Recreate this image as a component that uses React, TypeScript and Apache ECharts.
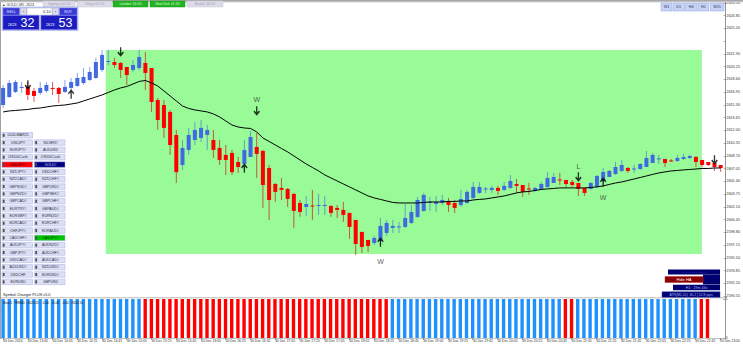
import React, { useEffect, useRef } from "react";
import * as echarts from "echarts";

const BASE = 2590.55;
const STEP = 1.65;
const TOP = 2628.5;
const BID = 2623.32;

const times = "13:25 13:30 13:35 13:40 13:45 13:50 13:55 14:00 14:05 14:10 14:15 14:20 14:25 14:30 14:35 14:40 14:45 14:50 14:55 15:00 15:05 15:10 15:15 15:20 15:25 15:30 15:35 15:40 15:45 15:50 15:55 16:00 16:05 16:10 16:15 16:20 16:25 16:30 16:35 16:40 16:45 16:50 16:55 17:00 17:05 17:10 17:15 17:20 17:25 17:30 17:35 17:40 17:45 17:50 17:55 18:00 18:05 18:10 18:15 18:20 18:25 18:30 18:35 18:40 18:45 18:50 18:55 19:00 19:05 19:10 19:15 19:20 19:25 19:30 19:35 19:40 19:45 19:50 19:55 20:00 20:05 20:10 20:15 20:20 20:25 20:30 20:35 20:40 20:45 20:50 20:55 21:00 21:05 21:10 21:15 21:20 21:25 21:30 21:35 21:40 21:45 21:50 21:55 22:00 22:05 22:10 22:15 22:20 22:25 22:30 22:35 22:40 22:45 22:50 22:55 23:00 23:05".split(" ");

// [open, close, low, high]
const candles = [
  [2615.29, 2617.5, 2614.91, 2617.88], [2616.33, 2618.14, 2616.2, 2618.53], [2616.98, 2618.27, 2616.85, 2618.53],
  [2617.5, 2617.63, 2616.85, 2618.27], [2617.63, 2616.59, 2615.94, 2618.27], [2617.11, 2616.46, 2615.68, 2617.5],
  [2616.85, 2617.5, 2616.59, 2618.27], [2617.11, 2617.88, 2616.85, 2618.27], [2617.5, 2617.37, 2616.59, 2618.27],
  [2617.5, 2616.72, 2615.55, 2617.63], [2616.98, 2617.63, 2616.85, 2618.53], [2617.5, 2618.27, 2616.98, 2618.79],
  [2617.76, 2618.79, 2617.63, 2619.44], [2618.14, 2618.92, 2617.88, 2620.08], [2618.53, 2619.57, 2618.4, 2620.21],
  [2618.79, 2620.86, 2618.66, 2621.38], [2619.83, 2621.77, 2619.57, 2622.42], [2620.86, 2620.99, 2620.47, 2622.42],
  [2620.86, 2620.47, 2620.08, 2621.38], [2620.73, 2619.83, 2618.79, 2620.86], [2620.21, 2619.18, 2617.88, 2620.21],
  [2619.83, 2620.47, 2619.57, 2621.12], [2620.08, 2621.51, 2619.83, 2622.42], [2620.73, 2619.44, 2617.24, 2622.16],
  [2620.08, 2615.68, 2614.39, 2620.08], [2615.94, 2613.35, 2612.06, 2616.2], [2615.29, 2612.32, 2611.02, 2615.94],
  [2614.39, 2610.11, 2608.82, 2614.65], [2611.41, 2606.59, 2605.19, 2612.06], [2607.52, 2609.73, 2606.88, 2610.76],
  [2609.47, 2611.41, 2608.82, 2612.32], [2610.76, 2612.06, 2610.11, 2613.09], [2611.02, 2612.32, 2610.5, 2613.35],
  [2611.41, 2612.06, 2609.47, 2612.71], [2610.76, 2609.47, 2608.43, 2612.06], [2609.73, 2608.17, 2607.52, 2610.76],
  [2608.82, 2608.17, 2606.23, 2610.11], [2609.08, 2606.59, 2606.23, 2609.47], [2607.91, 2607.26, 2606.49, 2608.56],
  [2607.65, 2609.47, 2606.88, 2610.76], [2608.56, 2611.15, 2608.56, 2611.93], [2609.86, 2608.95, 2605.84, 2611.67],
  [2609.34, 2604.93, 2601.96, 2609.47], [2607.13, 2602.99, 2600.4, 2607.52], [2605.06, 2604.03, 2602.73, 2605.19],
  [2604.55, 2604.29, 2602.99, 2605.84], [2604.42, 2603.12, 2602.08, 2604.55], [2603.77, 2601.57, 2599.37, 2603.9],
  [2602.6, 2601.44, 2600.81, 2602.99], [2602.08, 2602.47, 2600.92, 2603.51], [2602.27, 2602.14, 2600.4, 2604.29],
  [2602.21, 2602.34, 2601.05, 2603.77], [2602.21, 2602.34, 2601.05, 2603.51], [2602.21, 2601.31, 2600.81, 2602.34],
  [2601.96, 2601.7, 2600.66, 2602.34], [2601.7, 2601.05, 2600.14, 2602.73], [2601.31, 2599.5, 2597.94, 2601.31],
  [2600.4, 2597.29, 2595.87, 2600.4], [2598.85, 2596.9, 2596.12, 2598.85], [2597.81, 2597.03, 2596.25, 2597.81],
  [2597.42, 2598.07, 2597.16, 2598.33], [2597.68, 2599.63, 2597.16, 2600.66], [2598.72, 2600.01, 2598.33, 2600.4],
  [2599.37, 2599.63, 2598.72, 2600.4], [2599.43, 2599.56, 2598.72, 2600.14], [2599.5, 2600.66, 2599.37, 2602.47],
  [2600.01, 2601.44, 2599.88, 2602.34], [2600.79, 2602.99, 2600.66, 2603.38], [2601.57, 2603.64, 2601.44, 2603.9],
  [2602.6, 2602.73, 2601.57, 2603.38], [2602.47, 2602.73, 2601.44, 2603.51], [2602.6, 2602.99, 2602.34, 2603.64],
  [2602.86, 2602.34, 2601.44, 2603.25], [2602.6, 2601.96, 2601.31, 2602.99], [2602.34, 2603.12, 2602.08, 2604.29],
  [2602.6, 2604.03, 2602.47, 2604.29], [2603.25, 2604.68, 2603.12, 2605.32], [2603.9, 2604.68, 2603.77, 2605.32],
  [2604.35, 2604.48, 2603.9, 2604.68], [2604.29, 2604.55, 2603.9, 2604.81], [2604.55, 2604.16, 2603.64, 2604.81],
  [2604.29, 2604.81, 2604.16, 2605.32], [2604.55, 2605.45, 2604.42, 2606.23], [2605.06, 2604.81, 2603.9, 2605.71],
  [2604.93, 2604.03, 2603.38, 2604.93], [2604.48, 2604.35, 2603.64, 2605.19], [2604.16, 2604.55, 2604.03, 2604.68],
  [2604.42, 2605.06, 2604.29, 2605.32], [2604.68, 2605.84, 2604.55, 2606.62], [2605.19, 2605.97, 2605.19, 2606.49],
  [2605.64, 2605.51, 2604.93, 2606.49], [2605.58, 2605.06, 2604.68, 2605.58], [2605.32, 2604.93, 2604.68, 2605.58],
  [2605.19, 2604.42, 2603.51, 2605.19], [2604.55, 2603.9, 2603.51, 2604.55], [2604.42, 2605.19, 2604.29, 2605.32],
  [2604.68, 2606.1, 2604.55, 2606.23], [2605.45, 2606.62, 2605.19, 2607.13], [2605.97, 2606.75, 2605.97, 2606.88],
  [2606.36, 2607.26, 2606.23, 2607.91], [2606.75, 2607.52, 2606.62, 2608.17], [2607.13, 2606.75, 2606.49, 2607.26],
  [2606.94, 2607.07, 2606.49, 2607.52], [2607.0, 2607.65, 2606.88, 2607.78], [2607.26, 2608.43, 2607.26, 2609.34],
  [2607.78, 2608.82, 2607.78, 2609.08], [2608.24, 2608.37, 2607.65, 2608.82], [2608.3, 2607.78, 2607.26, 2608.3],
  [2608.11, 2607.98, 2607.91, 2608.3], [2608.04, 2608.43, 2607.91, 2608.82], [2608.3, 2608.56, 2608.17, 2608.95],
  [2608.43, 2608.69, 2608.3, 2608.82], [2608.56, 2607.91, 2607.26, 2608.69], [2608.17, 2607.52, 2607.26, 2608.17],
  [2607.91, 2607.52, 2607.39, 2607.91], [2607.78, 2607.26, 2606.75, 2607.78], [2607.52, 2607.13, 2606.62, 2607.52],
];

const maValues = [
  2614.39, 2614.52, 2614.58, 2614.65, 2614.71, 2614.84, 2614.9, 2615.03, 2615.16, 2615.23,
  2615.29, 2615.42, 2615.55, 2615.81, 2616.07, 2616.33, 2616.59, 2616.91, 2617.24, 2617.5,
  2617.69, 2618.01, 2618.34, 2618.47, 2618.14, 2617.75, 2617.11, 2616.46, 2615.81, 2615.16,
  2614.84, 2614.65, 2614.52, 2614.39, 2614.13, 2613.74, 2613.22, 2612.7, 2612.44, 2612.31,
  2612.25, 2611.8, 2611.02, 2610.57, 2610.11, 2609.66, 2609.21, 2608.69, 2608.17, 2607.65,
  2607.2, 2606.75, 2606.23, 2605.84, 2605.45, 2605.06, 2604.68, 2604.29, 2603.9, 2603.51,
  2603.25, 2603.06, 2602.86, 2602.67, 2602.6, 2602.6, 2602.6, 2602.6, 2602.67, 2602.73,
  2602.73, 2602.73, 2602.8, 2602.8, 2602.86, 2602.86, 2602.99, 2603.06, 2603.12, 2603.25,
  2603.38, 2603.51, 2603.7, 2603.9, 2604.03, 2604.09, 2604.22, 2604.35, 2604.42, 2604.48,
  2604.55, 2604.55, 2604.55, 2604.55, 2604.55, 2604.61, 2604.68, 2604.81, 2605.0, 2605.19,
  2605.32, 2605.51, 2605.71, 2605.9, 2606.1, 2606.3, 2606.49, 2606.62, 2606.75, 2606.81,
  2606.88, 2606.94, 2607.0, 2607.07, 2607.07, 2607.13, 2607.13,
];

// 1 = up (blue), 0 = down (red)
const trendState = [
  1, 1, 1, 1, 1, 1, 1, 1, 1, 1, 1, 1, 1, 1, 1, 1, 1, 1, 1, 1, 1, 1, 1,
  0, 0, 0, 0, 0, 0, 0, 0, 0, 0, 0, 0, 0, 0, 0, 0, 0, 0, 0, 0, 0, 0, 0, 0, 0, 0, 0, 0, 0, 0, 0, 0, 0, 0, 0, 0, 0, 0, 0, 0,
  1, 1, 1, 1, 1, 1, 1, 1, 1, 1, 1, 1, 1, 1, 1, 1, 1, 1, 1, 1, 1, 1, 1, 1, 1, 1, 1, 1,
  0, 0,
  1, 1, 1, 1, 1, 1, 1, 1, 1, 1, 1, 1, 1, 1, 1, 1, 1, 1, 1, 1,
  0, 0,
];

const downArrows = [[4, 2617.88], [19, 2622.16], [41, 2614.52], [93, 2605.97], [115, 2608.17]];
const upArrows = [[11, 2616.72], [39, 2607.13], [61, 2597.55], [97, 2605.32]];
const signalLabels: [number, number, string][] = [[41, 2615.94, "W"], [61, 2594.96, "W"], [93, 2607.26, "L"], [97, 2603.25, "W"]];
// [fromIndex, toIndex, highPrice, lowPrice]
const zone = [16.6, 112.95, 2622.41, 2595.99];

const symLeft = ["0100-MAR25", "USDJPY", "EURJPY#", "US100Cash", "USDJPY#", "NZDJPY#", "NZDCAD#", "GBPSGD#", "GBPNZD#", "GBPCAD#", "EURTRY#", "EURGBP#", "EURCAD#", "CHFJPY#", "CADCHF#", "AUDJPY#", "GBPJPY#", "USDCAD#", "AUDUSD#", "USDCHF", "EURUSD"];
const symRight = ["", "SILVER#", "AUDUSD", "US500Cash", "GOLD#", "USDCHF#", "NZDCHF#", "GBPUSD#", "GBPSEK#", "GBPCHF#", "GBPAUD#", "EURNZD#", "EURCHF#", "EURAUD#", "CADJPY#", "AUDNZD#", "AUDCHF#", "AUDCAD#", "NZDUSD#", "EURUSD#", "GBPUSD"];
const sessions = [
  ["Sydney 02:20", 43, 32, 0], ["Tokyo 01:20", 77, 35, 0], ["London 16:20", 113, 35, 1],
  ["NewYork 11:20", 150, 35, 1], ["Broker 18:20", 187, 36, 0],
];
const timeframes = [["W1", 661, 11], ["D1", 673, 11.5], ["H4", 685.5, 11.5], ["H1", 698, 11], ["M15", 710.5, 13.5]];

const FONT = "Liberation Sans, Arial, sans-serif";
const sh = (v: number) => +(v - BASE).toFixed(2);

function txt(x: number, y: number, text: string, fs: number, fill: string, align = "center", weight = "normal") {
  return { type: "text", x, y, z: 101, style: { text, fill, fontSize: fs, fontFamily: FONT, fontWeight: weight, align, verticalAlign: "middle" } };
}
function box(x: number, y: number, w: number, h: number, fill: string, stroke?: string) {
  return { type: "rect", z: 100, shape: { x, y, width: w, height: h }, style: { fill, stroke: stroke || null, lineWidth: 0.5 } };
}

function buildGraphics() {
  const els: any[] = [];
  els.push({ type: "rect", z: 99, shape: { x: 0, y: 0, width: 743, height: 2.5 }, style: { fill: new echarts.graphic.LinearGradient(0, 0, 0, 1, [{ offset: 0, color: "#9c9c9c" }, { offset: 1, color: "#d6d6d6" }]) } });
  els.push({ type: "line", z: 99, shape: { x1: 0.5, y1: 2, x2: 0.5, y2: 339 }, style: { stroke: "#a0a0a0", lineWidth: 1 } });
  els.push({ type: "line", z: 99, shape: { x1: 725.5, y1: 2, x2: 725.5, y2: 339 }, style: { stroke: "#666", lineWidth: 0.7 } });
  els.push({ type: "line", z: 99, shape: { x1: 0, y1: 297.8, x2: 725.5, y2: 297.8 }, style: { stroke: "#999", lineWidth: 0.7 } });
  els.push(txt(2, 4.6, "▲ GOLD#,M5  2623.", 3.5, "#333", "left"));
  sessions.forEach(([label, x, w, on]: any) => {
    els.push(box(x, 1, w, 6, on ? "#22b422" : "#dcdce8", on ? "#1a9a1a" : "#c8c8d8"));
    els.push(txt(x + w / 2, 4, label, 3.6, on ? "#d8ffd8" : "#a0a0b4"));
  });
  // trade panel
  els.push(box(2, 7, 76, 23.5, "#c8d0f2", "#8c9ce6"));
  els.push(box(3, 8, 16.5, 7, "#3a3ad6", "#8888ee"));
  els.push(txt(11.25, 11.6, "SELL", 3.8, "#e4e4ff"));
  els.push(box(20.5, 8, 6, 7, "#dcdcec", "#aaaacc"));
  els.push(txt(23.5, 11.5, "▪", 3.5, "#333"));
  els.push(box(27, 8, 25, 7, "#ffffff", "#b0b0c0"));
  els.push(txt(50.5, 11.6, "0.10", 3.8, "#222", "right"));
  els.push(box(52.5, 8, 6, 7, "#dcdcec", "#aaaacc"));
  els.push(txt(55.5, 11.5, "▪", 3.5, "#333"));
  els.push(box(59.5, 8, 17.5, 7, "#3a3ad6", "#8888ee"));
  els.push(txt(68.25, 11.6, "BUY", 3.8, "#e4e4ff"));
  els.push(box(3, 15.5, 36, 14, "#1c1cc0", "#6a6ae8"));
  els.push(txt(8, 24.5, "2623", 3.8, "#ffffff", "left"));
  els.push(txt(20.5, 23, "32", 12.5, "#ffffff", "left"));
  els.push(box(41, 15.5, 36, 14, "#1c1cc0", "#6a6ae8"));
  els.push(txt(46, 24.5, "2623", 3.8, "#ffffff", "left"));
  els.push(txt(58.5, 23, "53", 12.5, "#ffffff", "left"));
  // timeframe buttons
  timeframes.forEach(([label, x, w]: any) => {
    els.push(box(x, 3, w, 8, "#c8d2f4", "#8fa4e8"));
    els.push(txt(x + w / 2, 7.2, label, 3.8, "#333366"));
  });
  // symbol changer buttons
  for (let k = 0; k < symLeft.length; k++) {
    const y = 132.5 + 7.33 * k;
    const cols: [string, number][] = [[symLeft[k], 2], [symRight[k], 34.5]];
    cols.forEach(([label, x]) => {
      if (!label) return;
      let fill = "#dde0f4", color = "#2a2a3a";
      if (k === 4 && x < 30) { fill = "#ff0000"; color = "#3a0000"; }
      if (k === 4 && x > 30) { fill = "#00007a"; color = "#c8c8ff"; }
      if (k === 14 && x > 30) { fill = "#00c800"; color = "#003a00"; }
      els.push(box(x, y, 30.5, 5.5, fill, "#a4b0e4"));
      els.push(box(x + 0.8, y + 1.2, 1.8, 3.1, "#4a4a5a"));
      els.push(txt(x + 16, y + 2.9, label, 3.6, color));
    });
  }
  els.push(txt(3, 295.3, "Symbol Changer PLUS v5.0", 3.8, "#222", "left"));
  els.push(txt(3, 303, "Step:1  TREND:  2620.55   -0.00   -0.06   -0.00   2620.55", 3.2, "#111", "left"));
  // HA info panel
  els.push(box(668, 269.5, 52, 5, "#000070"));
  els.push(txt(694, 272, "- - - - - - - - - - - - -", 3.2, "#8090ff"));
  els.push(box(703, 274.5, 17, 10, "#000070"));
  els.push(box(665, 276.5, 38, 6, "#8b0000", "#b03030"));
  els.push(txt(684, 279.6, "Hide HA", 4, "#ffffff"));
  els.push(box(673, 284.8, 47, 5.5, "#000070"));
  els.push(txt(696.5, 287.6, "H1 : 29m 43s", 3.6, "#a8b8ff"));
  els.push(box(662, 291.8, 58, 5.5, "#000070", "#3040b0"));
  els.push(txt(691, 294.6, "ATR(M5,10): 30.2 | 52.8 pips", 3.4, "#a8b8ff"));
  return els;
}

export default function App() {
  const ref = useRef<HTMLDivElement>(null);
  useEffect(() => {
    if (!ref.current) return;
    const chart = echarts.init(ref.current, null, { renderer: "svg" });
    const candleData = candles.map((c, i) => [i, sh(c[0]), sh(c[1]), sh(c[2]), sh(c[3])]);
    const option: any = {
      animation: false,
      backgroundColor: "#ffffff",
      textStyle: { fontFamily: FONT },
      grid: [
        { left: 0, right: 18, top: 3, height: 293 },
        { left: 0, right: 18, top: 299, height: 39 },
      ],
      xAxis: [
        { type: "category", gridIndex: 0, data: times, show: false, boundaryGap: true },
        {
          type: "category", gridIndex: 1, data: times, boundaryGap: true,
          axisLine: { show: true, onZero: false, lineStyle: { color: "#888", width: 0.5 } },
          axisTick: { show: true, interval: 3, length: 2, alignWithLabel: true, lineStyle: { color: "#555", width: 0.5 } },
          axisLabel: {
            interval: 3, fontSize: 3.4, color: "#333", align: "left", margin: 1.8, fontFamily: FONT,
            formatter: (v: string, idx: number) => (idx === 0 ? "30 Dec 2024" : "30 Dec " + v),
          },
        },
        { type: "value", gridIndex: 0, min: -0.5, max: 116.5, show: false, axisLine: { onZero: false } },
      ],
      yAxis: [
        {
          type: "value", gridIndex: 0, position: "right", min: 0, max: sh(TOP), interval: STEP,
          axisLine: { show: false, onZero: false }, splitLine: { show: false },
          axisTick: { show: true, length: 2, lineStyle: { color: "#555", width: 0.5 } },
          axisLabel: {
            fontSize: 3.8, color: "#333", margin: 2.5, fontFamily: FONT,
            formatter: (v: number) => (Math.abs(v + BASE - 2623.55) < 0.01 ? "" : (v + BASE).toFixed(2)),
          },
        },
        {
          type: "value", gridIndex: 1, position: "right", min: 0, max: 1, interval: 1,
          axisLine: { show: false, onZero: false }, splitLine: { show: false },
          axisTick: { show: true, length: 2, lineStyle: { color: "#555", width: 0.5 } },
          axisLabel: { fontSize: 3.8, color: "#333", margin: 2.5, fontFamily: FONT },
        },
      ],
      series: [
        {
          type: "custom", xAxisIndex: 2, yAxisIndex: 0, z: 1, silent: true,
          data: [[zone[0], zone[1], sh(zone[2]), sh(zone[3])]],
          encode: { x: [0, 1], y: [2, 3] },
          renderItem: (_p: any, api: any) => {
            const a = api.coord([api.value(0), api.value(2)]);
            const b = api.coord([api.value(1), api.value(3)]);
            return { type: "rect", shape: { x: a[0], y: a[1], width: b[0] - a[0], height: b[1] - a[1] }, style: { fill: "#98FB98" } };
          },
        },
        {
          type: "custom", name: "GOLD# M5", xAxisIndex: 2, yAxisIndex: 0, z: 3,
          data: candleData,
          encode: { x: 0, y: [1, 2, 3, 4] },
          renderItem: (_p: any, api: any) => {
            const x = api.value(0);
            const o = api.value(1), c = api.value(2), l = api.value(3), h = api.value(4);
            const pO = api.coord([x, o]), pC = api.coord([x, c]), pL = api.coord([x, l]), pH = api.coord([x, h]);
            const up = c >= o;
            const top = Math.min(pO[1], pC[1]);
            const bh = Math.max(Math.abs(pO[1] - pC[1]), 1);
            return {
              type: "group",
              children: [
                { type: "line", shape: { x1: pH[0], y1: pH[1], x2: pL[0], y2: pL[1] }, style: { stroke: up ? "rgba(70,110,225,0.65)" : "rgba(205,30,20,0.72)", lineWidth: 1 } },
                { type: "rect", shape: { x: pO[0] - 2, y: top, width: 4, height: bh }, style: { fill: up ? "#4169E1" : "#FF0000" } },
              ],
            };
          },
        },
        {
          type: "line", name: "MA", xAxisIndex: 0, yAxisIndex: 0, z: 4, symbol: "none",
          data: maValues.map(sh), lineStyle: { color: "#000", width: 1 },
          markLine: {
            silent: true, symbol: ["none", "none"],
            lineStyle: { opacity: 0 },
            data: [{ yAxis: sh(BID) }],
            label: { show: true, position: "end", distance: 1, formatter: BID.toFixed(2), backgroundColor: "#000", color: "#fff", fontSize: 3.8, padding: [1, 1.5], fontFamily: FONT },
          },
        },
        {
          type: "scatter", xAxisIndex: 2, yAxisIndex: 0, z: 5,
          symbol: "path://M4 0H6V8L8.5 5.5L10 7L5 12L0 7L1.5 5.5L4 8Z", symbolSize: [6.5, 9.5],
          itemStyle: { color: "#000" }, data: downArrows.map(([i, p]) => [i, sh(p)]),
        },
        {
          type: "scatter", xAxisIndex: 2, yAxisIndex: 0, z: 5,
          symbol: "path://M5 0L10 5L8.5 6.5L6 4V12H4V4L1.5 6.5L0 5Z", symbolSize: [6.5, 9.5],
          itemStyle: { color: "#000" }, data: upArrows.map(([i, p]) => [i, sh(p)]),
        },
        {
          type: "scatter", xAxisIndex: 2, yAxisIndex: 0, z: 5, symbolSize: 1,
          itemStyle: { color: "rgba(0,0,0,0)" },
          label: { show: true, position: "inside", formatter: "{b}", color: "#333", fontSize: 7, fontFamily: FONT },
          data: signalLabels.map(([i, p, t]) => ({ value: [i, sh(p)], name: t })),
        },
        {
          type: "bar", xAxisIndex: 1, yAxisIndex: 1, barWidth: 3.4,
          data: trendState.map((s) => ({ value: 1, itemStyle: { color: s ? "#1E90FF" : "#FF0000" } })),
        },
      ],
      graphic: { elements: buildGraphics() },
    };
    chart.setOption(option);
    return () => chart.dispose();
  }, []);
  return <div ref={ref} style={{ position: "absolute", left: 0, top: 0, width: 743, height: 347 }} />;
}
